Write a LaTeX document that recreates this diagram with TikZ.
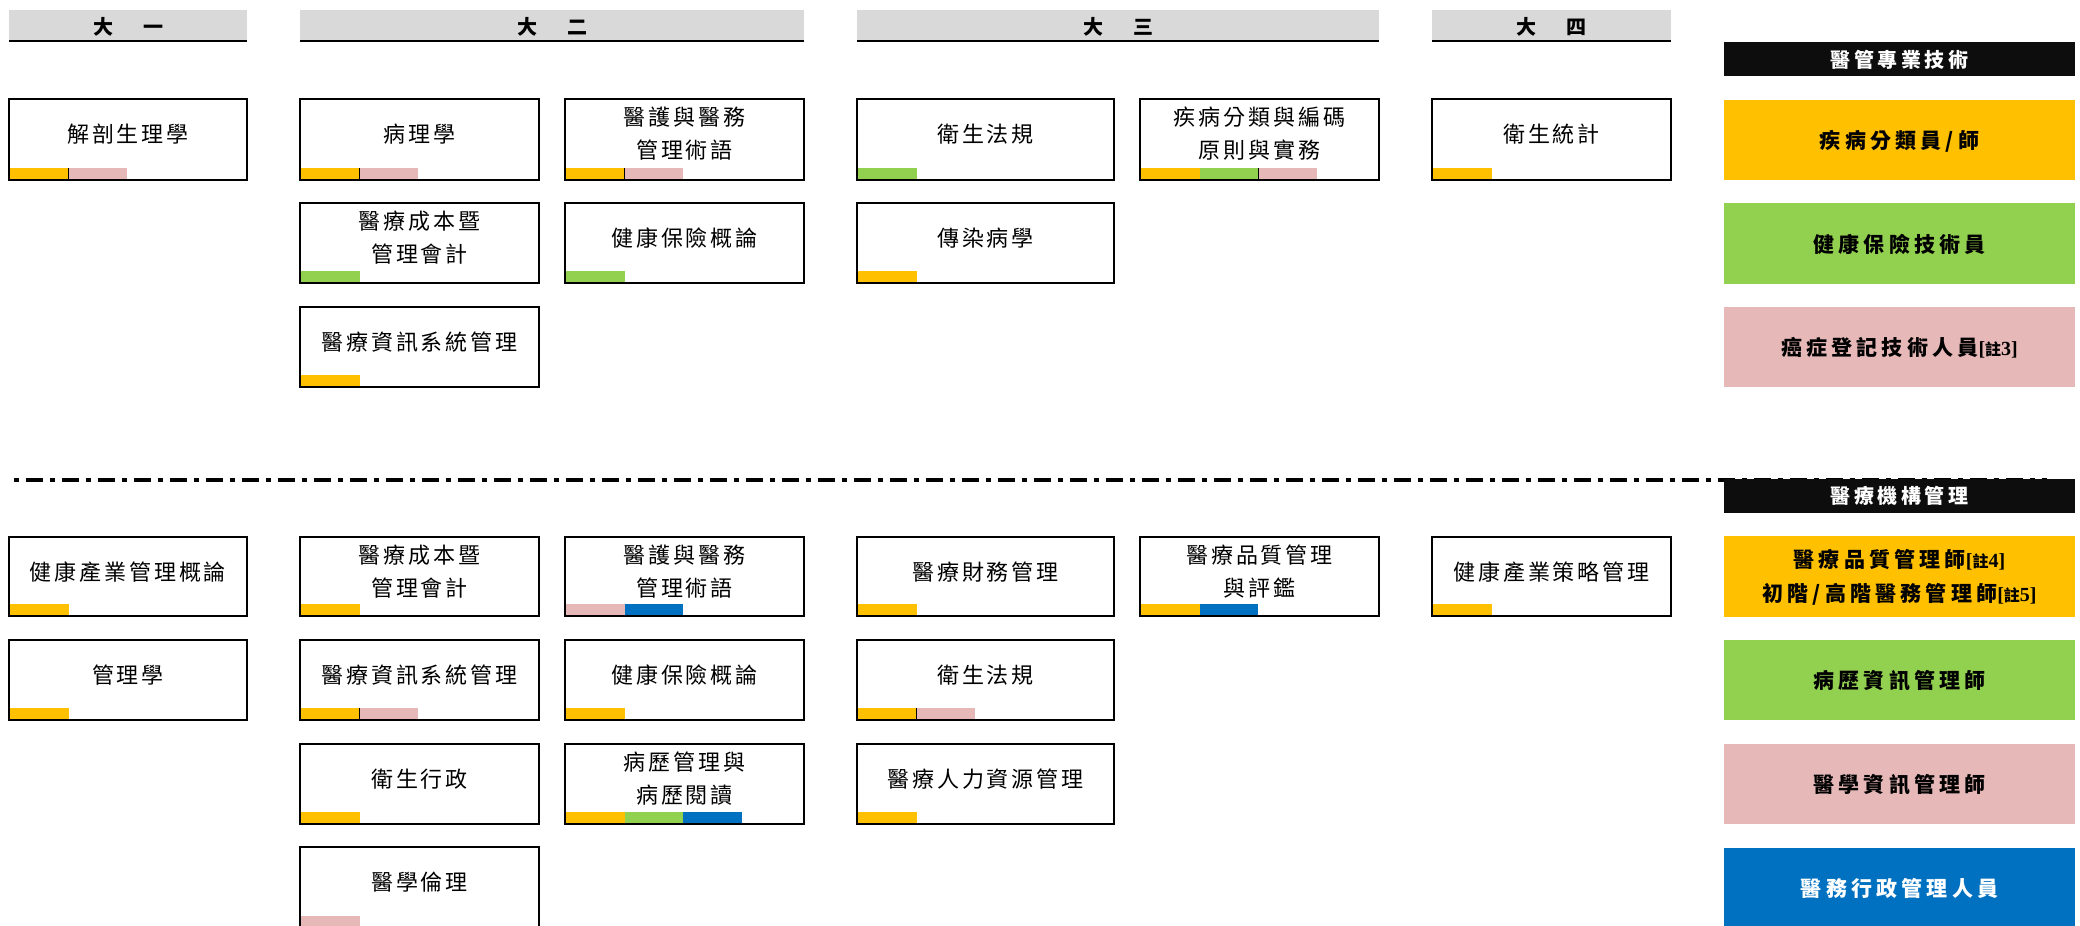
\documentclass[tikz,border=0pt]{standalone}
\usepackage{fontspec}
\setmainfont{Noto Sans CJK TC}
\newfontfamily\cjk{Noto Sans CJK TC}[LetterSpace=13]
\newfontfamily\cjkb{Noto Sans CJK TC}[LetterSpace=20]
\newfontfamily\cjkh{Noto Sans CJK TC}[LetterSpace=18]
\newfontfamily\cjkp{Noto Sans CJK TC}
\newfontfamily\tms{Liberation Serif}
\usetikzlibrary{fit}
\definecolor{cor}{HTML}{FFC000}
\definecolor{cgr}{HTML}{92D050}
\definecolor{cpk}{HTML}{E6B8B7}
\definecolor{cbl}{HTML}{0070C0}
\definecolor{chd}{HTML}{D9D9D9}
\definecolor{cbk}{HTML}{0D0D0D}
\tikzset{
  crsbox/.style={draw, line width=1.6pt, inner sep=0pt, outer sep=0pt},
  crstext/.style={font=\cjk\fontsize{22}{33}\selectfont, align=center, inner sep=0pt},
  hdr/.style={fill=chd, inner sep=0pt, outer sep=0pt},
  hdrtext/.style={inner sep=0pt, font=\cjkp\bfseries\fontsize{20}{20}\selectfont},
  rbox/.style={inner sep=0pt, outer sep=0pt},
  rtext/.style={inner sep=0pt, align=center, font=\cjkb\bfseries\fontsize{21}{34}\selectfont},
  rhead/.style={fill=cbk, inner sep=0pt, outer sep=0pt},
  rheadtext/.style={inner sep=0pt, text=white, font=\cjkh\bfseries\fontsize{20}{20}\selectfont},
  hline/.style={line width=2pt},
  segsep/.style={line width=1.5pt},
  dashdot/.style={line width=4pt, dash pattern=on 5.5pt off 6.5pt on 17pt off 7pt}
}
\newcommand\crs[6]{%
  \node[crsbox, fit={(#2,#3)(#4,#5)}] (#1) {};
  \node[crstext] (#1t) at ([yshift=-35pt]#1.north) {#6};}
\newcommand\seg[3]{%
  \fill[#3] ([xshift={(1+58.7*#2)*1pt}, yshift=1pt]#1.south west) rectangle ++(58.7,-11);}
\newcommand\segline[2]{%
  \draw[segsep] ([xshift={(1+58.7*#2)*1pt}, yshift=1pt]#1.south west) -- ++(0,-11);}
\newcommand\nt[1]{{\tms\bfseries\fontsize{20}{20}\selectfont[}{\cjkp\bfseries\fontsize{16}{16}\selectfont 註}{\tms\bfseries\fontsize{20}{20}\selectfont #1]}}
\begin{document}
\begin{tikzpicture}[x=1pt,y=-1pt]
\useasboundingbox (0,0) rectangle (2080,926);
\fill[white] (0,0) rectangle (2080,926);
% headers
\node[hdr, fit={(9,10)(247,41)}] (h1) {};
\node[hdr, fit={(300,10)(804,41)}] (h2) {};
\node[hdr, fit={(857,10)(1379,41)}] (h3) {};
\node[hdr, fit={(1432,10)(1671,41)}] (h4) {};
\foreach \h in {h1,h2,h3,h4} {\draw[hline] (\h.south west) -- (\h.south east);}
\node[hdrtext] (h1t) at ([yshift=-1.5pt]h1.center) {大\hspace{30pt}一};
\node[hdrtext] (h2t) at ([yshift=-1.5pt]h2.center) {大\hspace{30pt}二};
\node[hdrtext] (h3t) at ([yshift=-1.5pt]h3.center) {大\hspace{30pt}三};
\node[hdrtext] (h4t) at ([yshift=-1.5pt]h4.center) {大\hspace{30pt}四};
% top section
\crs{ta}{9}{99}{247}{180}{解剖生理學}
\seg{ta}{0}{cor}\seg{ta}{1}{cpk}\segline{ta}{1}
\crs{tb}{300}{99}{539}{180}{病理學}
\seg{tb}{0}{cor}\seg{tb}{1}{cpk}\segline{tb}{1}
\crs{tc}{565}{99}{804}{180}{醫護與醫務\\管理術語}
\seg{tc}{0}{cor}\seg{tc}{1}{cpk}\segline{tc}{1}
\crs{td}{300}{203}{539}{283}{醫療成本暨\\管理會計}
\seg{td}{0}{cgr}
\crs{te}{565}{203}{804}{283}{健康保險概論}
\seg{te}{0}{cgr}
\crs{tf}{300}{307}{539}{387}{醫療資訊系統管理}
\seg{tf}{0}{cor}
\crs{tg}{857}{99}{1114}{180}{衛生法規}
\seg{tg}{0}{cgr}
\crs{th}{857}{203}{1114}{283}{傳染病學}
\seg{th}{0}{cor}
\crs{ti}{1140}{99}{1379}{180}{疾病分類與編碼\\原則與實務}
\seg{ti}{0}{cor}\seg{ti}{1}{cgr}\seg{ti}{2}{cpk}\segline{ti}{2}
\crs{tj}{1432}{99}{1671}{180}{衛生統計}
\seg{tj}{0}{cor}
% separator line
\coordinate (dl) at (13.5,479.5);
\coordinate (dr) at (2047,479.5);
\draw[dashdot] (dl) -- (dr);
% bottom section
\crs{ba}{9}{537}{247}{616}{健康產業管理概論}
\seg{ba}{0}{cor}
\crs{bb}{9}{640}{247}{720}{管理學}
\seg{bb}{0}{cor}
\crs{bc}{300}{537}{539}{616}{醫療成本暨\\管理會計}
\seg{bc}{0}{cor}
\crs{bd}{300}{640}{539}{720}{醫療資訊系統管理}
\seg{bd}{0}{cor}\seg{bd}{1}{cpk}\segline{bd}{1}
\crs{be}{300}{744}{539}{824}{衛生行政}
\seg{be}{0}{cor}
\crs{bf}{300}{847}{539}{928}{醫學倫理}
\seg{bf}{0}{cpk}
\crs{bg}{565}{537}{804}{616}{醫護與醫務\\管理術語}
\seg{bg}{0}{cpk}\seg{bg}{1}{cbl}
\crs{bh}{565}{640}{804}{720}{健康保險概論}
\seg{bh}{0}{cor}
\crs{bi}{565}{744}{804}{824}{病歷管理與\\病歷閱讀}
\seg{bi}{0}{cor}\seg{bi}{1}{cgr}\seg{bi}{2}{cbl}
\crs{bj}{857}{537}{1114}{616}{醫療財務管理}
\seg{bj}{0}{cor}
\crs{bk}{857}{640}{1114}{720}{衛生法規}
\seg{bk}{0}{cor}\seg{bk}{1}{cpk}\segline{bk}{1}
\crs{bl}{857}{744}{1114}{824}{醫療人力資源管理}
\seg{bl}{0}{cor}
\crs{bm}{1140}{537}{1379}{616}{醫療品質管理\\與評鑑}
\seg{bm}{0}{cor}\seg{bm}{1}{cbl}
\crs{bn}{1432}{537}{1671}{616}{健康產業策略管理}
\seg{bn}{0}{cor}
% right column
\node[rhead, fit={(1724,42)(2075,76)}] (rh1) {};
\node[rheadtext] (rh1t) at ([yshift=-1pt]rh1.center) {醫管專業技術};
\node[rbox, fill=cor, fit={(1724,100)(2075,180)}] (r1) {};
\node[rtext] (r1t) at ([yshift=-1.5pt]r1.center) {疾病分類員/師};
\node[rbox, fill=cgr, fit={(1724,203)(2075,284)}] (r2) {};
\node[rtext] (r2t) at ([yshift=-1pt]r2.center) {健康保險技術員};
\node[rbox, fill=cpk, fit={(1724,307)(2075,387)}] (r3) {};
\node[rtext] (r3t) at ([yshift=-1pt]r3.center) {癌症登記技術人員\nt{3}};
\node[rhead, fit={(1724,479)(2075,513)}] (rh2) {};
\node[rheadtext] (rh2t) at (rh2.center) {醫療機構管理};
\node[rbox, fill=cor, fit={(1724,536)(2075,617)}] (r4) {};
\node[rtext] (r4t) at ([yshift=-1pt]r4.center) {醫療品質管理師\nt{4}\\初階/高階醫務管理師\nt{5}};
\node[rbox, fill=cgr, fit={(1724,640)(2075,720)}] (r5) {};
\node[rtext] (r5t) at ([yshift=-1pt]r5.center) {病歷資訊管理師};
\node[rbox, fill=cpk, fit={(1724,744)(2075,824)}] (r6) {};
\node[rtext] (r6t) at ([yshift=-1pt]r6.center) {醫學資訊管理師};
\node[rbox, fill=cbl, fit={(1724,848)(2075,928)}] (r7) {};
\node[rtext, text=white] (r7t) at (r7.center) {醫務行政管理人員};
\end{tikzpicture}
\end{document}
